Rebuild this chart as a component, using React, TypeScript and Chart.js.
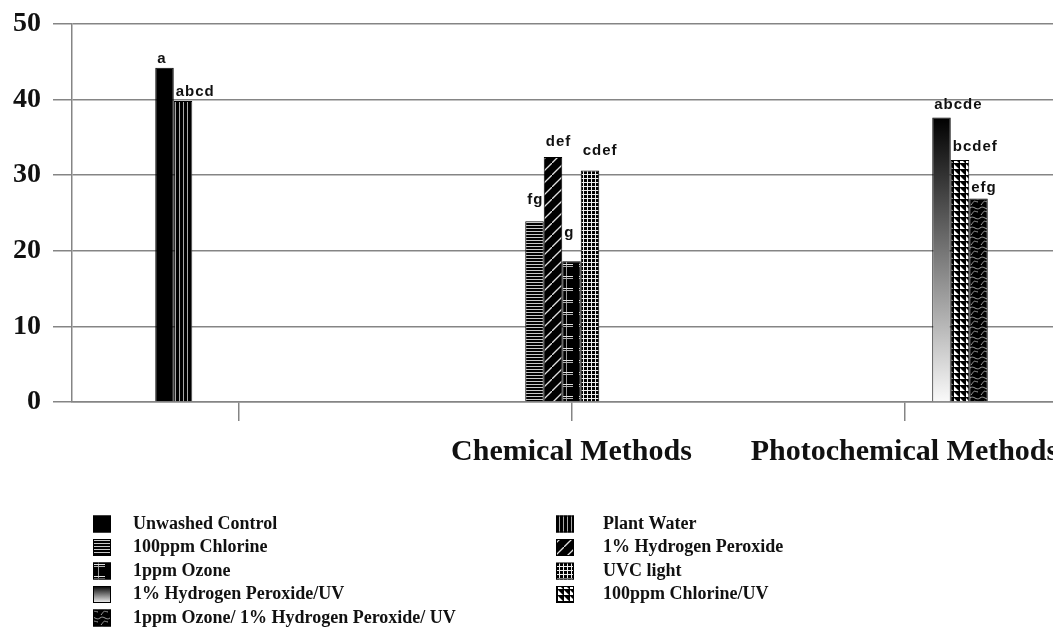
import React, { useEffect, useRef } from 'react';
import { Chart, registerables } from 'chart.js';

Chart.register(...registerables);

const categories = ['', 'Chemical Methods', 'Photochemical Methods'];
const seriesNames = [
  'Unwashed Control',
  'Plant Water',
  '100ppm Chlorine',
  '1% Hydrogen Peroxide',
  '1ppm Ozone',
  'UVC light',
  '1% Hydrogen Peroxide/UV',
  '100ppm Chlorine/UV',
  '1ppm Ozone/ 1% Hydrogen Peroxide/ UV',
];
const unwashedControl = [44.2, null, null];
const plantWater = [39.8, null, null];
const chlorine100 = [null, 23.9, null];
const peroxide1 = [null, 32.4, null];
const ozone1 = [null, 18.6, null];
const uvcLight = [null, 30.6, null];
const peroxideUV = [null, null, 37.6];
const chlorineUV = [null, null, 32.0];
const ozonePeroxideUV = [null, null, 26.9];
const significanceLetters = ['a', 'abcd', 'fg', 'def', 'g', 'cdef', 'abcde', 'bcdef', 'efg'];
const yTicks = [0, 10, 20, 30, 40, 50];

function makePattern(w: number, h: number, draw: (g: CanvasRenderingContext2D) => void) {
  const c = document.createElement('canvas');
  c.width = w;
  c.height = h;
  const g = c.getContext('2d')!;
  draw(g);
  return g.createPattern(c, 'repeat')!;
}

function buildFills() {
  const plant = makePattern(4, 1, (g) => {
    g.fillStyle = '#000'; g.fillRect(0, 0, 4, 1);
    g.fillStyle = '#a8a8a8'; g.fillRect(3, 0, 1, 1);
  });
  const chlor = makePattern(1, 3, (g) => {
    g.fillStyle = '#000'; g.fillRect(0, 0, 1, 3);
    g.fillStyle = '#c8c8c8'; g.fillRect(0, 2, 1, 1);
  });
  const perox = makePattern(12, 12, (g) => {
    g.fillStyle = '#000'; g.fillRect(0, 0, 12, 12);
    g.strokeStyle = '#e0e0e0'; g.lineWidth = 1.3;
    g.beginPath(); g.moveTo(-1, 13); g.lineTo(13, -1); g.stroke();
  });
  const ozone = makePattern(18, 12, (g) => {
    g.fillStyle = '#000'; g.fillRect(0, 0, 18, 12);
    g.fillStyle = '#9a9a9a'; g.fillRect(8, 0, 1, 12);
    g.fillStyle = '#e0e0e0'; g.fillRect(3, 5, 12, 1);
    g.fillStyle = '#b0b0b0'; g.fillRect(3, 7, 12, 1);
  });
  const uvc = makePattern(4, 4, (g) => {
    g.fillStyle = '#000'; g.fillRect(0, 0, 4, 4);
    g.fillStyle = '#eeeeee'; g.fillRect(3, 0, 1, 4); g.fillRect(0, 3, 4, 1);
  });
  const chlUV = makePattern(6, 6, (g) => {
    g.fillStyle = '#000'; g.fillRect(0, 0, 6, 6);
    g.fillStyle = '#fff';
    g.beginPath(); g.moveTo(0, 1); g.lineTo(0, 6); g.lineTo(5, 6); g.closePath(); g.fill();
  });
  const wave = makePattern(10, 10, (g) => {
    g.fillStyle = '#000'; g.fillRect(0, 0, 10, 10);
    g.strokeStyle = '#a0a0a0'; g.lineWidth = 1;
    g.beginPath(); g.moveTo(0, 3); g.bezierCurveTo(4, 0, 6, 6, 10, 3); g.stroke();
    g.beginPath(); g.moveTo(1, 10); g.bezierCurveTo(5, 5, 3, 6, 8, 7); g.stroke();
  });
  return { plant, chlor, perox, ozone, uvc, chlUV, wave };
}

function gradientFill(ctx: any) {
  const chart = ctx.chart;
  const area = chart.chartArea;
  if (!area || ctx.raw == null) return '#555';
  const y = chart.scales.y;
  const top = y.getPixelForValue(ctx.raw);
  const bottom = y.getPixelForValue(0);
  const grad = chart.ctx.createLinearGradient(0, top, 0, bottom);
  grad.addColorStop(0, '#000');
  grad.addColorStop(1, '#fafafa');
  return grad;
}

const letterPlugin = {
  id: 'letters',
  afterDatasetsDraw(chart: any, _args: any, opts: any) {
    const ctx = chart.ctx;
    ctx.save();
    ctx.font = 'bold 15px "Liberation Sans", Arial, sans-serif';
    try { (ctx as any).letterSpacing = '1px'; } catch (e) {}
    ctx.fillStyle = '#111';
    ctx.textAlign = 'left';
    ctx.textBaseline = 'alphabetic';
    chart.data.datasets.forEach((ds: any, i: number) => {
      const meta = chart.getDatasetMeta(i);
      meta.data.forEach((bar: any, j: number) => {
        if (ds.data[j] == null) return;
        const lift = opts.lift[i] ?? 6;
        ctx.fillText(opts.letters[i], bar.x - bar.width / 2 + 2, bar.y - lift);
      });
    });
    ctx.restore();
  },
};

const legendPlugin = {
  id: 'sideLegend',
  afterDraw(chart: any, _args: any, opts: any) {
    const ctx = chart.ctx;
    ctx.save();
    ctx.font = 'bold 18px "Liberation Serif", "Times New Roman", serif';
    ctx.textBaseline = 'middle';
    ctx.fillStyle = '#111';
    seriesNames.forEach((name, i) => {
      const col = i % 2;
      const row = Math.floor(i / 2);
      const sx = opts.colX[col];
      const tx = opts.textX[col];
      const cy = opts.rowY0 + row * opts.rowGap;
      const sw = 18, sh = 17;
      const ds = chart.data.datasets[i];
      let fill: any = ds.legendFill;
      if (fill === 'gradient') {
        const g = ctx.createLinearGradient(0, cy - sh / 2, 0, cy + sh / 2);
        g.addColorStop(0, '#000');
        g.addColorStop(1, '#f5f5f5');
        fill = g;
      }
      ctx.fillStyle = fill;
      ctx.fillRect(sx, cy - sh / 2, sw, sh);
      ctx.strokeStyle = '#000';
      ctx.lineWidth = 1;
      ctx.strokeRect(sx + 0.5, cy - sh / 2 + 0.5, sw - 1, sh - 1);
      ctx.fillStyle = '#111';
      ctx.fillText(name, tx, cy);
    });
    ctx.restore();
  },
};

export default function App() {
  const ref = useRef<HTMLCanvasElement>(null);
  useEffect(() => {
    if (!ref.current) return;
    const f = buildFills();
    const values = [unwashedControl, plantWater, chlorine100, peroxide1, ozone1, uvcLight, peroxideUV, chlorineUV, ozonePeroxideUV];
    const fills: any[] = ['#000', f.plant, f.chlor, f.perox, f.ozone, f.uvc, gradientFill, f.chlUV, f.wave];
    const legendFills: any[] = ['#000', f.plant, f.chlor, f.perox, f.ozone, f.uvc, 'gradient', f.chlUV, f.wave];
    const datasets = values.map((d, i) => ({
      label: seriesNames[i],
      data: d,
      backgroundColor: fills[i],
      legendFill: legendFills[i],
      borderColor: '#000',
      borderWidth: 1,
      categoryPercentage: 0.5,
      barPercentage: 1,
    }));
    const gridColor = '#858585';
    const chart = new Chart(ref.current, {
      type: 'bar',
      data: { labels: categories, datasets: datasets as any },
      options: {
        responsive: false,
        animation: false,
        devicePixelRatio: 1,
        layout: { padding: { left: 1, right: 9, top: 2, bottom: 157 } },
        plugins: {
          legend: { display: false },
          tooltip: { enabled: false },
          letters: { letters: significanceLetters, lift: [5, 5, 17, 11, 24, 16, 9, 9, 7] },
          sideLegend: { colX: [93, 556], textX: [133, 603], rowY0: 529, rowGap: 23.5 },
        } as any,
        scales: {
          x: {
            offset: true,
            grid: { offset: false, drawOnChartArea: false, drawTicks: true, tickLength: 19, color: gridColor, lineWidth: 1.5 },
            border: { color: gridColor, width: 1.5 },
            ticks: {
              color: '#111',
              padding: 13,
              maxRotation: 0,
              autoSkip: false,
              font: { family: '"Liberation Serif", "Times New Roman", serif', weight: 'bold', size: 30 },
            },
          },
          y: {
            min: yTicks[0],
            max: yTicks[yTicks.length - 1],
            afterBuildTicks: (axis: any) => { axis.ticks = yTicks.map((v) => ({ value: v })); },
            grid: { color: gridColor, lineWidth: 1.5, tickLength: 19 },
            border: { color: gridColor, width: 1.5 },
            ticks: {
              color: '#111',
              padding: 12,
              font: { family: '"Liberation Serif", "Times New Roman", serif', weight: 'bold', size: 28 },
            },
          },
        },
      },
      plugins: [letterPlugin, legendPlugin],
    });
    return () => chart.destroy();
  }, []);
  return (
    <div style={{ position: 'fixed', left: 0, top: 0, width: 1053, height: 637, overflow: 'hidden', background: '#fff' }}>
      <canvas ref={ref} width={1080} height={645} style={{ display: 'block', width: 1080, height: 645, marginTop: -5 }} />
    </div>
  );
}
